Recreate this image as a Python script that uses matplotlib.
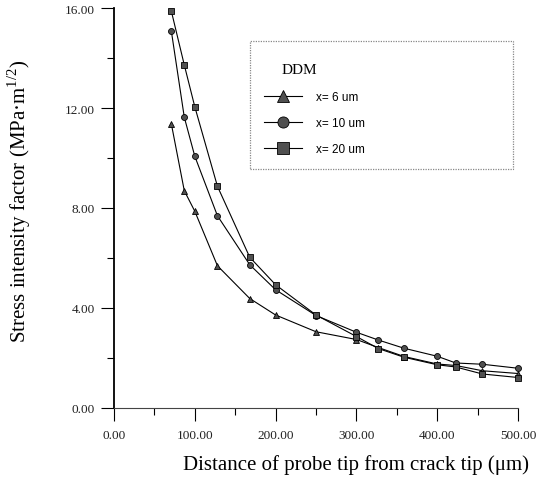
import matplotlib
matplotlib.use("Agg")
import matplotlib.pyplot as plt
from matplotlib.lines import Line2D
from matplotlib.patches import Rectangle
from matplotlib.ticker import MultipleLocator, FormatStrFormatter

# Data
distance = [71, 87, 100, 128, 168, 200, 250, 300, 327, 359, 400, 423, 456, 500]
k_x6 = [11.36, 8.69, 7.87, 5.69, 4.38, 3.72, 3.05, 2.74, 2.42, 2.06, 1.76, 1.70, 1.49, 1.38]
k_x10 = [15.07, 11.63, 10.07, 7.69, 5.73, 4.73, 3.70, 3.03, 2.72, 2.39, 2.07, 1.80, 1.75, 1.59]
k_x20 = [15.87, 13.72, 12.05, 8.87, 6.03, 4.93, 3.72, 2.86, 2.38, 2.03, 1.73, 1.64, 1.36, 1.22]
series_labels = ["x= 6 um", "x= 10 um", "x= 20 um"]
legend_title = "DDM"
xlabel = "Distance of probe tip from crack tip (\u03bcm)"
ylabel = "Stress intensity factor (MPa\u00b7m$^{1/2}$)"

SERIF = ["Liberation Serif", "DejaVu Serif"]
SANS = ["Liberation Sans", "DejaVu Sans"]
plt.rcParams["mathtext.fontset"] = "custom"
plt.rcParams["mathtext.rm"] = "Liberation Serif"

fig = plt.figure(figsize=(5.38, 4.81), dpi=100)
ax = fig.add_axes([114 / 538, 1 - 409 / 481, 404 / 538, 400 / 481])

fc = "#505050"
markers = ["^", "o", "s"]
for ys, m in zip([k_x6, k_x10, k_x20], markers):
    ax.plot(distance, ys, color="black", lw=0.8, marker=m, markersize=4.3,
            markerfacecolor=fc, markeredgecolor="black", markeredgewidth=0.6,
            clip_on=False)

ax.set_xlim(0, 500)
ax.set_ylim(0, 16)
for s in ["top", "right"]:
    ax.spines[s].set_visible(False)
ax.spines["left"].set_linewidth(1.3)
ax.spines["bottom"].set_linewidth(0.8)
ax.spines["bottom"].set_color("#444444")

ax.xaxis.set_major_locator(MultipleLocator(100))
ax.xaxis.set_minor_locator(MultipleLocator(50))
ax.yaxis.set_major_locator(MultipleLocator(4))
ax.yaxis.set_minor_locator(MultipleLocator(2))
ax.xaxis.set_major_formatter(FormatStrFormatter("%.2f"))
ax.yaxis.set_major_formatter(FormatStrFormatter("%.2f"))
ax.tick_params(which="major", direction="out", length=9.5, width=0.8)
ax.tick_params(which="minor", direction="out", length=5, width=0.8)
ax.tick_params(axis="x", which="major", pad=5.5)
ax.tick_params(axis="y", which="major", pad=4)
for lab in ax.get_xticklabels() + ax.get_yticklabels():
    lab.set_fontfamily(SERIF)
    lab.set_fontsize(9.5)
    lab.set_color("#222222")

ax.set_xlabel(xlabel, fontfamily=SERIF, fontsize=15)
ax.set_ylabel(ylabel, fontfamily=SERIF, fontsize=15)
ax.xaxis.set_label_coords((356 - 114) / 404, -(455 - 409) / 400)
ax.yaxis.set_label_coords((33 - 114) / 404, (409 - 201) / 400)

# Legend box
x0 = (250 - 114) / 404
x1 = (513 - 114) / 404
y0 = (409 - 170) / 400
y1 = (409 - 42) / 400
ax.add_patch(Rectangle((x0, y0), x1 - x0, y1 - y0, transform=ax.transAxes,
                       fill=False, edgecolor="#888888", linestyle=(0, (1, 1)),
                       linewidth=0.9, clip_on=False))
ax.text((282 - 114) / 404, (409 - 70) / 400, legend_title, transform=ax.transAxes,
        fontfamily=SERIF, fontsize=11, ha="left", va="center")
handles = [Line2D([0], [0], color="black", lw=0.8, marker=m, markersize=8,
                  markerfacecolor=fc, markeredgecolor="black", markeredgewidth=0.6)
           for m in markers]
leg = ax.legend(handles, series_labels, loc="upper left",
                bbox_to_anchor=((264 - 114) / 404, (409 - 92) / 400),
                frameon=False, borderpad=0, borderaxespad=0,
                handlelength=3.2, handletextpad=1.2, labelspacing=1.18,
                prop={"family": SANS, "size": 8.5})

fig.savefig("out.png", dpi=100)
